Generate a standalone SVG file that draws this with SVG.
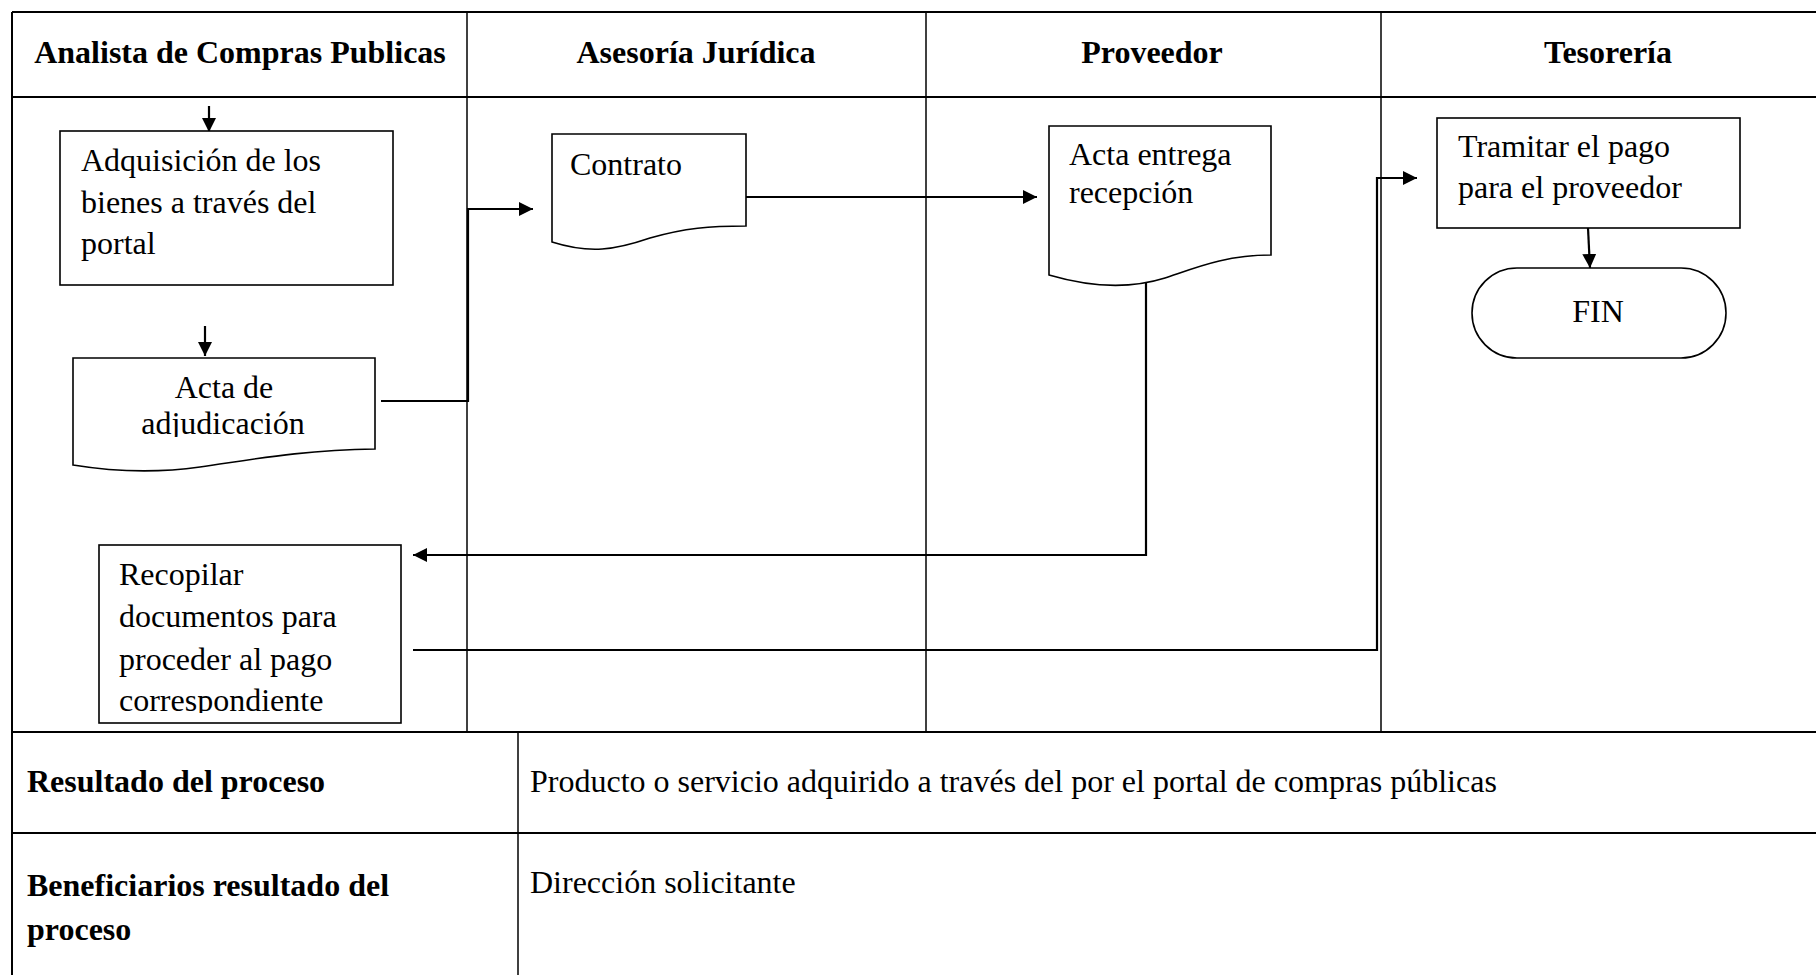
<svg xmlns="http://www.w3.org/2000/svg" width="1816" height="975" viewBox="0 0 1816 975">
  <style>
    .grid { stroke: #000; stroke-width: 2; fill: none; }
    .lane { stroke: #000; stroke-width: 1.5; fill: none; }
    .shape { stroke: #000; stroke-width: 1.6; fill: #fff; }
    .conn { stroke: #000; stroke-width: 2.2; fill: none; }
    .t { font-family: "Liberation Serif", "Times New Roman", serif; font-size: 32px; fill: #000; }
    .h { font-family: "Liberation Serif", "Times New Roman", serif; font-size: 32px; font-weight: bold; fill: #000; }
  </style>
  <defs>
    <marker id="arrow" markerUnits="userSpaceOnUse" markerWidth="16" markerHeight="14" refX="14" refY="7" orient="auto">
      <path d="M0,0 L14,7 L0,14 Z" fill="#000"/>
    </marker>
    <clipPath id="clipAdj"><rect x="60" y="360" width="320" height="77"/></clipPath>
    <clipPath id="clipRec"><rect x="100" y="546" width="300" height="167"/></clipPath>
  </defs>
  <rect width="1816" height="975" fill="#fff"/>

  <!-- swimlane table -->
  <g id="table">
    <line class="grid" x1="12" y1="12" x2="1816" y2="12"/>
    <line class="grid" x1="12" y1="97" x2="1816" y2="97"/>
    <line class="grid" x1="12" y1="12" x2="12" y2="975"/>
    <line class="lane" x1="467" y1="12" x2="467" y2="732"/>
    <line class="lane" x1="926" y1="12" x2="926" y2="732"/>
    <line class="lane" x1="1381" y1="12" x2="1381" y2="732"/>
    <line class="grid" x1="12" y1="732" x2="1816" y2="732"/>
    <line class="grid" x1="12" y1="833" x2="1816" y2="833"/>
    <line class="lane" x1="518" y1="732" x2="518" y2="975"/>
  </g>

  <g id="headers">
    <text class="h" x="240" y="63" text-anchor="middle">Analista de Compras Publicas</text>
    <text class="h" x="696" y="63" text-anchor="middle">Asesoría Jurídica</text>
    <text class="h" x="1152" y="63" text-anchor="middle">Proveedor</text>
    <text class="h" x="1608" y="63" text-anchor="middle">Tesorería</text>
  </g>

  <!-- connectors -->
  <g id="connectors">
    <line class="conn" x1="209" y1="106" x2="209" y2="132" marker-end="url(#arrow)"/>
    <line class="conn" x1="205" y1="326" x2="205" y2="356" marker-end="url(#arrow)"/>
    <path class="conn" d="M381,401 H468 V209 H533" marker-end="url(#arrow)"/>
    <path class="conn" d="M746,197 H1037" marker-end="url(#arrow)"/>
    <path class="conn" d="M1146,273 V555 H413" marker-end="url(#arrow)"/>
    <path class="conn" d="M413,650 H1377 V178 H1417" marker-end="url(#arrow)"/>
    <line class="conn" x1="1588" y1="228" x2="1590" y2="268" marker-end="url(#arrow)"/>
  </g>

  <g id="adquisicion">
    <rect class="shape" x="60" y="131" width="333" height="154"/>
    <text class="t" x="81" y="171">Adquisición de los</text>
    <text class="t" x="81" y="213">bienes a través del</text>
    <text class="t" x="81" y="254">portal</text>
  </g>

  <g id="acta-adjudicacion">
    <path class="shape" d="M73,358 H375 V449 C300,450 250,460 200,467 C150,474 110,471 73,465 Z"/>
    <g clip-path="url(#clipAdj)">
      <text class="t" x="224" y="398" text-anchor="middle">Acta de</text>
      <text class="t" x="223" y="434" text-anchor="middle">adjudicación</text>
    </g>
  </g>

  <g id="recopilar">
    <rect class="shape" x="99" y="545" width="302" height="178"/>
    <g clip-path="url(#clipRec)">
      <text class="t" x="119" y="585">Recopilar</text>
      <text class="t" x="119" y="627">documentos para</text>
      <text class="t" x="119" y="670">proceder al pago</text>
      <text class="t" x="119" y="711">correspondiente</text>
    </g>
  </g>

  <g id="contrato">
    <path class="shape" d="M552,134 H746 V226 C710,226 685,228 650,238 C615,250 590,254 552,242 Z"/>
    <text class="t" x="570" y="175">Contrato</text>
  </g>

  <g id="acta-entrega">
    <path class="shape" d="M1049,126 H1271 V255 C1225,255 1195,268 1165,278 C1130,289 1090,287 1049,275 Z"/>
    <text class="t" x="1069" y="165">Acta entrega</text>
    <text class="t" x="1069" y="203">recepción</text>
  </g>

  <g id="tramitar">
    <rect class="shape" x="1437" y="118" width="303" height="110"/>
    <text class="t" x="1458" y="157">Tramitar el pago</text>
    <text class="t" x="1458" y="198">para el proveedor</text>
  </g>

  <g id="fin">
    <rect class="shape" x="1472" y="268" width="254" height="90" rx="45" ry="45"/>
    <text class="t" x="1598" y="322" text-anchor="middle">FIN</text>
  </g>

  <g id="summary">
    <text class="h" x="27" y="792">Resultado del proceso</text>
    <text class="t" x="530" y="792">Producto o servicio adquirido a través del por el portal de compras públicas</text>
    <text class="h" x="27" y="896">Beneficiarios resultado del</text>
    <text class="h" x="27" y="940">proceso</text>
    <text class="t" x="530" y="893">Dirección solicitante</text>
  </g>
</svg>
